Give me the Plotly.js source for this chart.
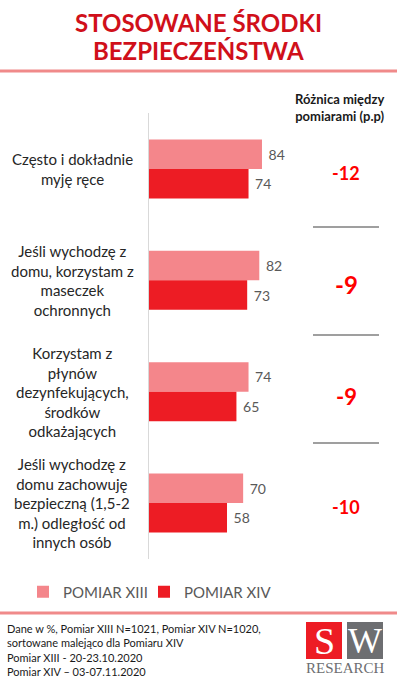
<!DOCTYPE html>
<html>
<head>
<meta charset="utf-8">
<script src="https://cdn.plot.ly/plotly-3.0.1.min.js"></script>
<style>html,body{margin:0;padding:0;background:#fff;}#chart{width:397px;height:697px;}</style>
</head>
<body>
<div id="chart"></div>
<script>
const categories = [
  "Często i dokładnie<br>myję ręce",
  "Jeśli wychodzę z<br>domu, korzystam z<br>maseczek<br>ochronnych",
  "Korzystam z<br>płynów<br>dezynfekujących,<br>środków<br>odkażających",
  "Jeśli wychodzę z<br>domu zachowuję<br>bezpieczną (1,5-2<br>m.) odległość od<br>innych osób"
];
const seriesNames = ["POMIAR XIII", "POMIAR XIV"];
const pomiarXIII = [84, 82, 74, 70];
const pomiarXIV = [74, 73, 65, 58];
const differences = [-12, -9, -9, -10];
const titleLines = ["STOSOWANE ŚRODKI", "BEZPIECZEŃSTWA"];
const diffHeader = "Różnica między<br>pomiarami (p.p)";
const footnote = "Dane w %, Pomiar XIII N=1021, Pomiar XIV N=1020,<br>sortowane malejąco dla Pomiaru XIV<br>Pomiar XIII - 20-23.10.2020<br>Pomiar XIV – 03-07.11.2020";

const W = 397, H = 697;
const px = p => p / W;
const py = p => 1 - p / H;
const idx = categories.map((_, i) => i);

const FONT = "Lato, 'Open Sans', sans-serif";
const colors = ["#f4868b", "#ed1c24"];
const legendWidths = [76, 100];

const traces = [pomiarXIII, pomiarXIV].map((vals, k) => ({
  type: "bar",
  orientation: "h",
  name: seriesNames[k],
  legendwidth: legendWidths[k],
  y: idx,
  x: vals,
  marker: {color: colors[k], line: {width: 0}},
  text: vals.map(v => " " + v),
  textposition: "outside",
  textfont: {family: FONT, size: 14, color: "#595959"},
  cliponaxis: false,
  hoverinfo: "x"
}));

const annotations = [];
titleLines.forEach((t, i) => annotations.push({
  xref: "paper", yref: "paper", x: px(198), y: py(i === 0 ? 23 : 51),
  xanchor: "center", yanchor: "middle", showarrow: false, text: t,
  font: {family: FONT, size: 24, color: "#d0101a", weight: "bold"}
}));
categories.forEach((c, i) => annotations.push({
  xref: "paper", yref: "y", x: px(72), y: i,
  xanchor: "center", yanchor: "middle", showarrow: false, align: "center", text: c,
  font: {family: FONT, size: 15, color: "#262626"}
}));
const diffSizes = [18, 24, 22, 18];
differences.forEach((d, i) => annotations.push({
  xref: "paper", yref: "y", x: px(346), y: i + 0.04,
  xanchor: "center", yanchor: "middle", showarrow: false, text: String(d),
  font: {family: FONT, size: diffSizes[i], color: "#ff0000", weight: "bold"}
}));
annotations.push({
  xref: "paper", yref: "paper", x: px(340), y: py(108),
  xanchor: "center", yanchor: "middle", showarrow: false, align: "center", text: diffHeader,
  font: {family: FONT, size: 13, color: "#1a1a1a", weight: "bold"}
});
annotations.push({
  xref: "paper", yref: "paper", x: px(5), y: py(620),
  xanchor: "left", yanchor: "top", showarrow: false, align: "left", text: footnote,
  font: {family: FONT, size: 11, color: "#1a1a1a"}
});
annotations.push({
  xref: "paper", yref: "paper", x: px(324), y: py(641),
  xanchor: "center", yanchor: "middle", showarrow: false, text: "S",
  font: {family: "'Liberation Serif', serif", size: 38, color: "#ffffff"}
});
annotations.push({
  xref: "paper", yref: "paper", x: px(365), y: py(641),
  xanchor: "center", yanchor: "middle", showarrow: false, text: "W",
  font: {family: "'Liberation Serif', serif", size: 36, color: "#ffffff"}
});
annotations.push({
  xref: "paper", yref: "paper", x: px(345), y: py(668),
  xanchor: "center", yanchor: "middle", showarrow: false, text: "RESEARCH",
  font: {family: "'Liberation Serif', serif", size: 15, color: "#6d6e71"}
});

const shapes = [
  {type: "line", xref: "paper", yref: "paper", x0: 0, x1: 1, y0: py(71), y1: py(71), line: {color: "#f08a8a", width: 3}},
  {type: "line", xref: "paper", yref: "paper", x0: 0, x1: 1, y0: py(613), y1: py(613), line: {color: "#f08a8a", width: 3}},
  {type: "rect", xref: "paper", yref: "paper", x0: px(306), x1: px(342), y0: py(659), y1: py(622), fillcolor: "#ed1c24", line: {width: 0}},
  {type: "rect", xref: "paper", yref: "paper", x0: px(347), x1: px(383), y0: py(659), y1: py(622), fillcolor: "#6d6e71", line: {width: 0}}
];
[227, 335, 443].forEach(p => shapes.push({
  type: "line", xref: "paper", yref: "paper", x0: px(313), x1: px(379), y0: py(p), y1: py(p),
  line: {color: "#7f7f7f", width: 1.5}
}));

const plotTop = 113.3, plotBot = 558.7;
const layout = {
  width: W, height: H,
  margin: {l: 0, r: 0, t: 0, b: 0},
  paper_bgcolor: "#ffffff", plot_bgcolor: "rgba(0,0,0,0)",
  barmode: "group", bargap: 0.47, bargroupgap: 0,
  showlegend: true,
  legend: {
    orientation: "h", x: px(23), y: py(592), xanchor: "left", yanchor: "middle",
    font: {family: FONT, size: 15, color: "#595959"}, traceorder: "normal",
    entrywidthmode: "pixels",
    itemclick: false, bgcolor: "rgba(0,0,0,0)"
  },
  xaxis: {domain: [px(149), 1], range: [0, (W - 149) / 1.345], visible: false, fixedrange: true},
  yaxis: {
    domain: [py(plotBot), py(plotTop)], range: [3.5, -0.5], type: "linear",
    showticklabels: false, showgrid: false, zeroline: false, ticks: "",
    showline: true, linecolor: "#d9d9d9", linewidth: 1, fixedrange: true
  },
  annotations: annotations,
  shapes: shapes
};

Plotly.newPlot("chart", traces, layout, {displayModeBar: false, staticPlot: true});
</script>
</body>
</html>
